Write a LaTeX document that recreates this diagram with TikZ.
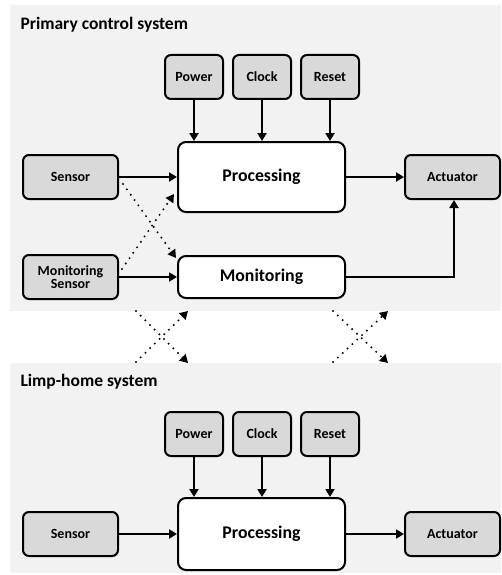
\documentclass[tikz,border=0pt]{standalone}
\usepackage{fontspec}
\setmainfont{Carlito}
\usetikzlibrary{arrows.meta,calc}
\definecolor{panel}{HTML}{F2F2F2}
\definecolor{boxgray}{HTML}{D9D9D9}
\begin{document}
\begin{tikzpicture}[x=1pt,y=-1pt,
  every node/.style={font=\bfseries},
  smallbox/.style={draw,line width=2pt,rounded corners=6pt,fill=boxgray,
    minimum width=58pt,minimum height=44pt,inner sep=0pt,font=\bfseries\fontsize{14}{15.5}\selectfont,align=center},
  sidebox/.style={smallbox,minimum width=95pt},
  mainbox/.style={draw,line width=2pt,rounded corners=8pt,fill=white,
    minimum width=167pt,inner sep=0pt,font=\bfseries\fontsize{17.8}{20}\selectfont},
  flow/.style={line width=2pt,-{Triangle[length=8pt,width=9pt]}},
  cross/.style={line width=2.2pt,line cap=round,dash pattern=on 0pt off 6.6pt,
    -{Triangle[length=8pt,width=9pt]},shorten >=0pt},
  heading/.style={anchor=west,font=\bfseries\fontsize{17.5}{20}\selectfont}]
\useasboundingbox (0,0) rectangle (501,575);

% panels
\fill[panel] (10,5) rectangle (501,311);
\fill[panel] (10,363) rectangle (501,573);

\node[heading] (t1) at (17,25) {Primary control system};
\node[heading] (t2) at (17,382) {Limp-home system};

% primary control system
\node[smallbox] (pw1) at (194,77) {Power};
\node[smallbox] (ck1) at (262,77) {Clock};
\node[smallbox] (rs1) at (330,77) {Reset};
\node[mainbox,minimum height=70pt] (pr1) at (261.5,177) {Processing};
\node[sidebox] (se1) at (70.5,177) {Sensor};
\node[sidebox] (ac1) at (452.5,177) {Actuator};
\node[sidebox] (ms) at (70.5,277) {Monitoring\\[-2pt]Sensor};
\node[mainbox,minimum height=42pt] (mo) at (261.5,277) {Monitoring};

\draw[flow] (pw1) -- (pw1 |- pr1.north);
\draw[flow] (ck1) -- (ck1 |- pr1.north);
\draw[flow] (rs1) -- (rs1 |- pr1.north);
\draw[flow] (se1) -- (pr1);
\draw[flow] (pr1) -- (ac1);
\draw[flow] (ms) -- (mo);
\draw[flow] (mo.east) -| ([xshift=1.5pt]ac1.south);

\draw[cross] ([xshift=4pt,yshift=-7pt]se1.east) -- ([xshift=-1pt,yshift=-3pt]mo.north west);
\draw[cross] ([xshift=3pt,yshift=8pt]ms.east) -- ([xshift=-3pt,yshift=19pt]pr1.south west);

% links between the two systems
\coordinate (la) at (136,311);
\coordinate (lb) at (188,363);
\coordinate (lc) at (136,362);
\coordinate (ld) at (188,311);
\coordinate (ra) at (333,311);
\coordinate (rb) at (388,363);
\coordinate (rc) at (333,362);
\coordinate (rd) at (388,311);
\draw[cross] (la) -- (lb);
\draw[cross] (lc) -- (ld);
\draw[cross] (ra) -- (rb);
\draw[cross] (rc) -- (rd);

% limp-home system
\node[smallbox] (pw2) at (194,434) {Power};
\node[smallbox] (ck2) at (262,434) {Clock};
\node[smallbox] (rs2) at (330,434) {Reset};
\node[mainbox,minimum height=72pt] (pr2) at (261.5,534) {Processing};
\node[sidebox] (se2) at (70.5,534) {Sensor};
\node[sidebox] (ac2) at (452.5,534) {Actuator};

\draw[flow] (pw2) -- (pw2 |- pr2.north);
\draw[flow] (ck2) -- (ck2 |- pr2.north);
\draw[flow] (rs2) -- (rs2 |- pr2.north);
\draw[flow] (se2) -- (pr2);
\draw[flow] (pr2) -- (ac2);
\end{tikzpicture}
\end{document}
